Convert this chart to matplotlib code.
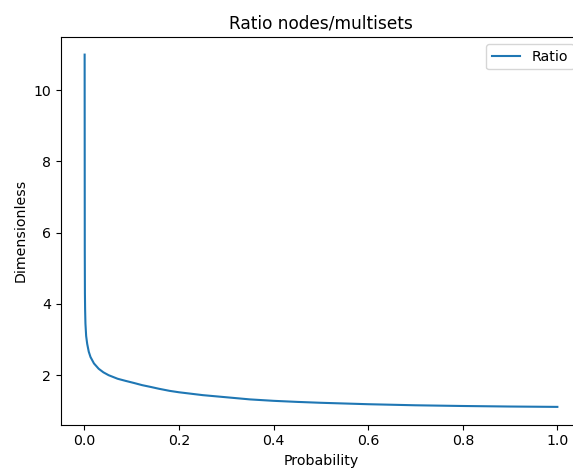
import matplotlib
matplotlib.use("Agg")
import matplotlib.pyplot as plt

# valores
probabilidad = [0.0003, 0.0006, 0.0009, 0.0013, 0.002, 0.0035, 0.0057, 0.009,
                0.0127, 0.02, 0.03, 0.04, 0.051, 0.07, 0.087, 0.105, 0.122,
                0.14, 0.157, 0.18, 0.2, 0.225, 0.25, 0.275, 0.3, 0.35, 0.4,
                0.45, 0.5, 0.55, 0.6, 0.7, 0.8, 0.9, 1.0]
ratio = [11.0, 5.5, 4.3, 3.85, 3.45, 3.1, 2.88, 2.66,
         2.51, 2.33, 2.18, 2.08, 2.0, 1.9, 1.84, 1.78, 1.72,
         1.67, 1.62, 1.56, 1.52, 1.48, 1.44, 1.41, 1.38, 1.32, 1.28,
         1.25, 1.225, 1.205, 1.185, 1.155, 1.135, 1.12, 1.11]

plt.rcParams["font.size"] = 10.2

fig = plt.figure(figsize=(5.73, 4.68), dpi=100)
ax = fig.add_axes([61 / 573, 43.5 / 468, 520 / 573, 387.5 / 468])

ax.plot(probabilidad, ratio, color="#1f77b4", label="Ratio")

ax.set_title("Ratio nodes/multisets")
ax.set_xlabel("Probability")
ax.set_ylabel("Dimensionless")
ax.legend(loc="upper right")

fig.savefig("out.png", dpi=100)
